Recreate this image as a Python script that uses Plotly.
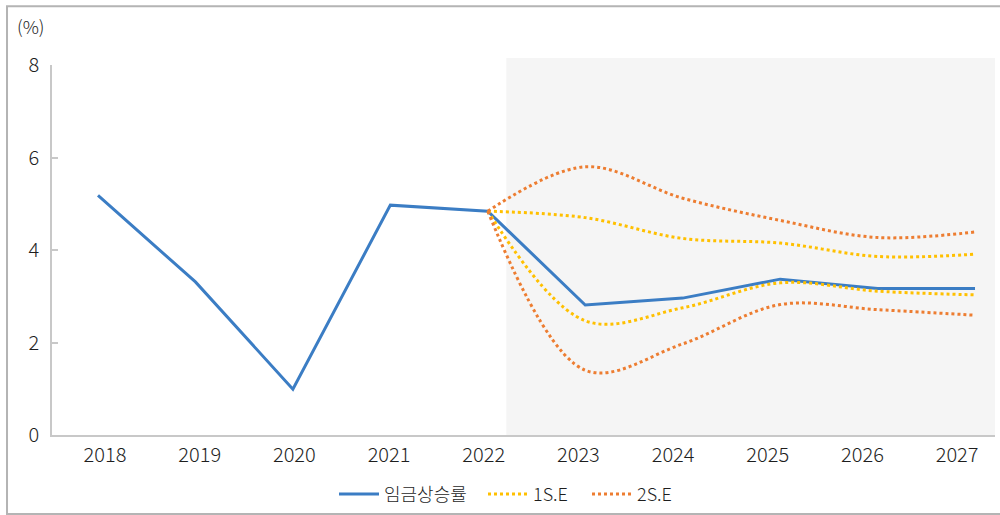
import plotly.graph_objects as go

# Wage growth rate (%) with 1 and 2 standard-error forecast bands
years = [2018, 2019, 2020, 2021, 2022, 2023, 2024, 2025, 2026, 2027]
wage_growth = [5.18, 3.31, 0.99, 4.97, 4.84, 2.81, 2.96, 3.37, 3.17, 3.17]

band_years = [2022, 2023, 2024, 2025, 2026, 2027]
se1_upper = [4.84, 4.70, 4.25, 4.15, 3.86, 3.91]
se1_lower = [4.84, 2.47, 2.75, 3.29, 3.11, 3.03]
se2_upper = [4.84, 5.80, 5.12, 4.64, 4.27, 4.39]
se2_lower = [4.84, 1.40, 1.97, 2.82, 2.71, 2.59]

y_ticks = [0, 2, 4, 6, 8]
forecast_start = 2022.19

BLUE = "#3B7DC4"
YELLOW = "#FFC000"
ORANGE = "#ED7D31"
GRID = "#C8C8C8"
FONT = "Noto Sans CJK KR"
TEXT = "#1E1E1E"

fig = go.Figure()

fig.add_trace(go.Scatter(
    x=years, y=wage_growth, name="임금상승률", mode="lines", legend="legend",
    line=dict(color=BLUE, width=3),
))
fig.add_trace(go.Scatter(
    x=band_years, y=se1_upper, name="1S.E", mode="lines", legend="legend2",
    line=dict(color=YELLOW, width=3, dash="3px,3px", shape="spline", smoothing=1),
))
fig.add_trace(go.Scatter(
    x=band_years, y=se1_lower, name="1S.E", mode="lines", showlegend=False,
    line=dict(color=YELLOW, width=3, dash="3px,3px", shape="spline", smoothing=1),
))
fig.add_trace(go.Scatter(
    x=band_years, y=se2_upper, name="2S.E", mode="lines", legend="legend3",
    line=dict(color=ORANGE, width=3, dash="3px,3px", shape="spline", smoothing=1),
))
fig.add_trace(go.Scatter(
    x=band_years, y=se2_lower, name="2S.E", mode="lines", showlegend=False,
    line=dict(color=ORANGE, width=3, dash="3px,3px", shape="spline", smoothing=1),
))
# invisible carrier for the year-label axis
fig.add_trace(go.Scatter(
    x=years, y=wage_growth, xaxis="x2", mode="lines", showlegend=False,
    hoverinfo="skip", line=dict(width=0), opacity=0,
))

# shaded forecast period
fig.add_shape(
    type="rect", xref="x", yref="paper",
    x0=forecast_start, x1=2027.3, y0=0, y1=1.019,
    fillcolor="#F5F5F5", line=dict(width=0), layer="below",
)
# outer frame
fig.add_shape(
    type="rect", xref="paper", yref="paper",
    x0=-0.0477, x1=1.01, y0=-0.2135, y1=1.159,
    fillcolor="rgba(0,0,0,0)", line=dict(color="#B4B4B4", width=2),
)

fig.add_annotation(
    text="(%)", xref="paper", yref="paper", x=-0.0223, y=1.105,
    showarrow=False, font=dict(family=FONT, size=18, color=TEXT, weight=300),
    xanchor="center", yanchor="middle",
)

legend_font = dict(family=FONT, size=18, color=TEXT, weight=300)


def legend_box(x):
    return dict(
        orientation="h", xref="container", yref="container",
        x=x, xanchor="left", y=0.040, yanchor="middle",
        font=legend_font, itemwidth=40, bgcolor="rgba(0,0,0,0)",
    )


fig.update_layout(
    width=1000, height=515,
    margin=dict(l=52, r=5, t=65, b=80, autoexpand=False),
    paper_bgcolor="white", plot_bgcolor="rgba(0,0,0,0)",
    font=dict(family=FONT, size=19, color=TEXT, weight=300),
    showlegend=True,
    legend=legend_box(0.334),
    legend2=legend_box(0.483),
    legend3=legend_box(0.587),
    xaxis=dict(
        type="linear", range=[2017.528, 2027.205],
        showticklabels=False, ticks="", showgrid=False, zeroline=False,
        showline=True, linecolor=GRID, linewidth=1.5,
    ),
    xaxis2=dict(
        type="linear", overlaying="x", side="bottom", anchor="y",
        range=[2017.44, 2027.40], tickvals=years, ticktext=[str(y) for y in years],
        showgrid=False, zeroline=False, showline=False, ticks="",
        ticklabelstandoff=6,
        tickfont=dict(family=FONT, size=20, color=TEXT, weight=300),
    ),
    yaxis=dict(
        range=[0, 8], tickvals=y_ticks, showgrid=False, zeroline=False,
        showline=True, linecolor=GRID, linewidth=1.5,
        ticks="inside", ticklen=6, tickcolor=GRID, tickwidth=1.5,
        ticklabelstandoff=7,
        tickfont=dict(family=FONT, size=20, color=TEXT, weight=300),
    ),
)

fig.write_html("out.html")
